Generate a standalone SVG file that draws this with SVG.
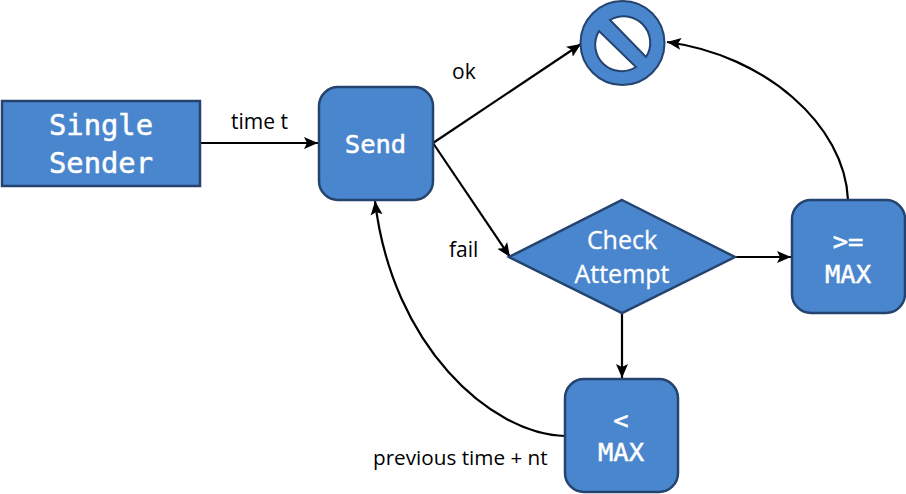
<svg xmlns="http://www.w3.org/2000/svg" width="906" height="494" viewBox="0 0 906 494">
<defs><marker id="a" markerUnits="userSpaceOnUse" markerWidth="15" markerHeight="14" refX="14" refY="7" orient="auto"><path d="M0 1L14 7L0 13L3 7z" fill="#000"/></marker></defs>
<style>
.n{fill:#4a86cd;stroke:#24446f;stroke-width:2.500}
.c{fill:none;stroke:#000;stroke-width:2.200;marker-end:url(#a)}
.m{font:25.5px "DejaVu Sans Mono","Liberation Mono",monospace;fill:#fff;stroke:#fff;stroke-width:.5;text-anchor:middle}
.s{font:25px "Open Sans","Liberation Sans",sans-serif;fill:#fff;stroke:#fff;stroke-width:.3;text-anchor:middle}
.l{font:21px "Open Sans","Liberation Sans",sans-serif;fill:#000}
</style>
<rect width="906" height="494" fill="#fff"/>
<g id="connectors">
<path class="c" d="M201 143H318"/>
<path class="c" d="M433 143L581 44"/>
<path class="c" d="M433 143L510 257"/>
<path class="c" d="M735 257H791"/>
<path class="c" d="M622 313V378"/>
<path class="c" d="M565 436C490 434 392 345 375 201"/>
<path class="c" d="M848 200C845 125 765 55 667 42"/>
</g>
<g id="single-sender"><rect class="n" x="2" y="101" width="198" height="85"/><text class="m" x="101" y="135" style="font-size:28.8px">Single</text><text class="m" x="101" y="173" style="font-size:28.8px">Sender</text></g>
<g id="send"><rect class="n" x="319" y="87" width="114" height="113" rx="19"/><text class="m" x="375.500" y="153">Send</text></g>
<g id="stop"><circle cx="622.500" cy="43" r="42" fill="#4a86cd" stroke="#24446f" stroke-width="2"/><path d="M610 20A26.500 26.500 0 0 1 646 57z M599 31A26.500 26.500 0 0 0 636 67z" fill="#fff" stroke="#24446f" stroke-width="2"/></g>
<g id="check-attempt"><path class="n" d="M622 200L735 257L622 313L509 257z"/><text class="s" x="622" y="249">Check</text><text class="s" x="622" y="283">Attempt</text></g>
<g id="max-high"><rect class="n" x="792" y="200" width="113" height="113" rx="19"/><text class="m" x="848" y="250">&gt;=</text><text class="m" x="848" y="283">MAX</text></g>
<g id="max-low"><rect class="n" x="565" y="379" width="113" height="113" rx="19"/><text class="m" x="621" y="429">&lt;</text><text class="m" x="621" y="461">MAX</text></g>
<g id="labels"><text class="l" x="231" y="129">time t</text><text class="l" x="452" y="79">ok</text><text class="l" x="449" y="257">fail</text><text class="l" x="373" y="465" style="font-size:20.700px">previous time + nt</text></g>
</svg>
